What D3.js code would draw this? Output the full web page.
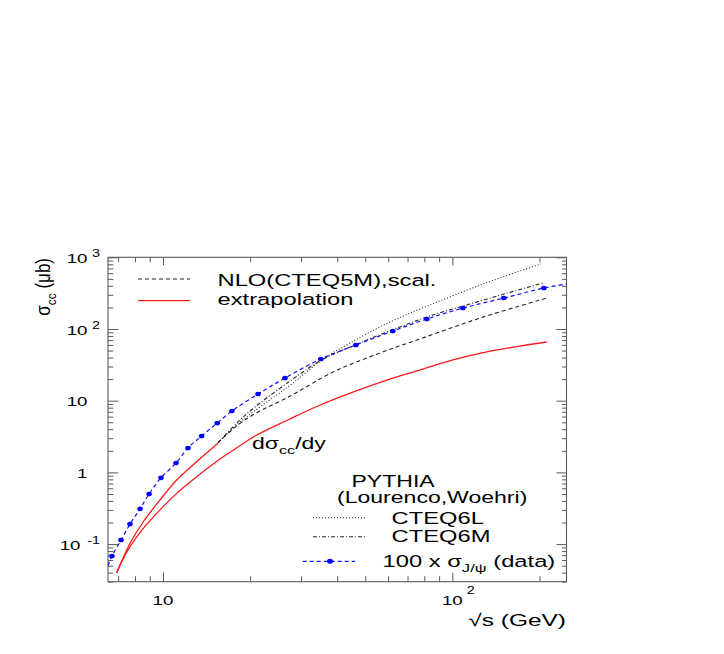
<!DOCTYPE html>
<html>
<head>
<meta charset="utf-8">
<script src="https://cdn.jsdelivr.net/npm/d3@7"></script>
<style>
  body { margin: 0; background: #fff; }
  svg { display: block; }
</style>
</head>
<body>
<svg id="chart" width="724" height="654"></svg>
<script>
// 100 x sigma(J/psi) data points
const jpsiSqrtS = [6.66, 7.16, 7.69, 8.33, 8.95, 9.84, 11.09, 12.2, 13.6, 15.4, 17.3, 21.3, 26.4, 35.1, 46.4, 62.3, 81.6, 108.7, 150.6, 207];
const jpsiSigma = [0.068, 0.114, 0.19, 0.31, 0.50, 0.84, 1.35, 2.19, 3.22, 4.89, 7.18, 12.4, 20.7, 38.2, 59.8, 93.8, 138, 196, 270, 373];
// where the dashed data line runs out of the frame
const jpsiEdgeSqrtS = [6.455, 248];
const jpsiEdgeSigma = [0.05, 424];

// red: extrapolation of the total, and dsigma/dy
const extrapSqrtS = [6.92, 7.2, 7.69, 8.55, 9.76, 11.15, 13.07, 15.49];
const extrapSigma = [0.040, 0.058, 0.103, 0.205, 0.412, 0.783, 1.41, 2.55];
const dsdySqrtS = [6.92, 7.2, 7.69, 8.55, 9.76, 11.15, 13.07, 15.74, 17.73, 20.8, 27.0, 34.9, 45.3, 59.4, 77.2, 100.4, 131.6, 171.1, 212];
const dsdySigma = [0.040, 0.057, 0.092, 0.166, 0.30, 0.51, 0.871, 1.54, 2.12, 3.22, 5.38, 8.71, 13.2, 19.4, 26.8, 37.0, 47.8, 57.9, 65.9];

// NLO (CTEQ5M), scaled
const nloSqrtS = [15.49, 18.16, 20.8, 27.5, 38.7, 56.2, 77.2, 124.5, 212];
const nloSigma = [2.6, 4.6, 6.6, 11.6, 25.1, 46.3, 72.6, 142, 270];

// PYTHIA (Lourenco, Woehri)
const cteq6lSqrtS = [15.49, 18.16, 20.8, 27.5, 35.4, 44.3, 60.8, 83.6, 127.5, 202];
const cteq6lSigma = [2.6, 4.73, 7.3, 16.4, 37.0, 63.8, 125, 216, 424, 807];
const cteq6mSqrtS = [15.49, 18.16, 20.8, 27.5, 35.4, 47.9, 65.9, 83.6, 114.9, 155.5, 205.4];
const cteq6mSigma = [2.6, 5.05, 8.17, 18.8, 37.0, 63.8, 107, 152, 223, 318, 438];

// axis labels
const xTickLabels = [{ v: 10, base: '10' }, { v: 100, base: '10', exp: '2' }];
const yTickLabels = [
  { v: 1000, base: '10', exp: '3' },
  { v: 100, base: '10', exp: '2' },
  { v: 10, base: '10' },
  { v: 1, base: '1' },
  { v: 0.1, base: '10', exp: '-1' }
];

const FONT = 'Liberation Sans, Arial, Helvetica, sans-serif';
const SX = 1.44;          // the picture is stretched sideways
const AXIS = '#5a5a5a';
const L = 108, R = 566.5, T = 257.3, B = 581.7;

const svg = d3.select('#chart');
svg.append('rect').attr('width', 724).attr('height', 654).attr('fill', '#fff');

const x = d3.scaleLog().domain([6.455, 248]).range([L, R]);
const y = d3.scaleLog().domain([0.0299, 1000]).range([B, T]);

svg.append('defs').append('clipPath').attr('id', 'frame')
  .append('rect').attr('x', L).attr('y', T).attr('width', R - L).attr('height', B - T);

// text helper: parts = [{t, sub, sup}]
const stext = (x0, y0, parts, o) => {
  const size = o.size || 16;
  const t = svg.append('text')
    .attr('transform', `translate(${x0},${y0}) scale(${o.sx || SX},1)` + (o.rot ? ` rotate(${o.rot})` : ''))
    .attr('font-family', FONT)
    .attr('font-size', size)
    .attr('text-anchor', o.anchor || 'start')
    .attr('fill', '#000');
  let shift = 0;
  parts.forEach(p => {
    const s = t.append('tspan').text(p.t);
    const want = p.sub ? size * 0.32 : p.sup ? -size * 0.45 : 0;
    if (want !== shift) s.attr('dy', want - shift);
    shift = want;
    if (p.sub || p.sup) s.attr('font-size', size * 0.7);
  });
  return t;
};

// ticks inside the frame, on all four sides
const isMajor = v => Math.abs(Math.log10(v) - Math.round(Math.log10(v))) < 1e-6;
const xTicks = x.ticks(), yTicks = y.ticks();
const tickSet = (axisFn, scale, values, size, tr) => {
  svg.append('g').attr('transform', tr).attr('color', AXIS)
    .call(axisFn(scale).tickValues(values).tickSize(size).tickSizeOuter(0).tickFormat(''))
    .call(g => g.select('.domain').remove());
};
tickSet(d3.axisBottom, x, xTicks.filter(v => !isMajor(v)), -5.5, `translate(0,${B})`);
tickSet(d3.axisBottom, x, xTicks.filter(isMajor), -9, `translate(0,${B})`);
tickSet(d3.axisTop, x, xTicks.filter(v => !isMajor(v)), -5, `translate(0,${T})`);
tickSet(d3.axisTop, x, xTicks.filter(isMajor), -8, `translate(0,${T})`);
tickSet(d3.axisLeft, y, yTicks.filter(v => !isMajor(v)), -5.3, `translate(${L},0)`);
tickSet(d3.axisLeft, y, yTicks.filter(isMajor), -10.3, `translate(${L},0)`);
tickSet(d3.axisRight, y, yTicks.filter(v => !isMajor(v)), -4.5, `translate(${R},0)`);
tickSet(d3.axisRight, y, yTicks.filter(isMajor), -10, `translate(${R},0)`);

svg.append('rect').attr('x', L).attr('y', T).attr('width', R - L).attr('height', B - T)
  .attr('fill', 'none').attr('stroke', AXIS).attr('stroke-width', 1.1);

// tick labels
xTickLabels.forEach(d => {
  const cx = x(d.v);
  stext(cx, 604.5, [{ t: d.base }], { size: 13, anchor: 'middle' });
  if (d.exp) stext(cx + 14.5, 593.5, [{ t: d.exp }], { size: 10 });
});
yTickLabels.forEach(d => {
  const cy = y(d.v) + 5.5;
  if (d.exp) {
    const neg = d.exp[0] === '-';
    stext(100, cy - 6, [{ t: d.exp }], { size: 10, anchor: 'end' });
    stext(neg ? 80.5 : 87.5, cy, [{ t: d.base }], { size: 13, anchor: 'end' });
  } else {
    stext(87.5, cy, [{ t: d.base }], { size: 13, anchor: 'end' });
  }
});

// axis titles
stext(566, 625.5, [{ t: '\u221As (GeV)' }], { size: 17, anchor: 'end' });
stext(50, 258, [{ t: '\u03C3' }, { t: 'cc', sub: true }, { t: ' (\u03BCb)' }], { size: 17, anchor: 'end', rot: -90, sx: 1.15 });

// curves
const line = d3.line().x(d => x(d[0])).y(d => y(d[1])).curve(d3.curveCatmullRom.alpha(0.5));
const zip = (a, b) => a.map((v, i) => [v, b[i]]);
const plot = svg.append('g').attr('clip-path', 'url(#frame)');

const drawCurve = (xs, ys, color, dash, w) => {
  plot.append('path')
    .attr('d', line(zip(xs, ys)))
    .attr('fill', 'none')
    .attr('stroke', color)
    .attr('stroke-width', w || 1)
    .attr('stroke-dasharray', dash || null);
};

drawCurve(dsdySqrtS, dsdySigma, '#ff1a1a', null, 1.3);
drawCurve(extrapSqrtS, extrapSigma, '#ff1a1a', null, 1.3);
drawCurve(nloSqrtS, nloSigma, '#222', '4,3', 1.1);
drawCurve(cteq6lSqrtS, cteq6lSigma, '#222', '1,2', 1.1);
drawCurve(cteq6mSqrtS, cteq6mSigma, '#222', '4,2,1,2', 1.1);

const jpsiLineX = [jpsiEdgeSqrtS[0], ...jpsiSqrtS, jpsiEdgeSqrtS[1]];
const jpsiLineY = [jpsiEdgeSigma[0], ...jpsiSigma, jpsiEdgeSigma[1]];
drawCurve(jpsiLineX, jpsiLineY, '#1010ff', '4,3', 1.2);

plot.selectAll('ellipse.jpsi')
  .data(zip(jpsiSqrtS, jpsiSigma))
  .join('ellipse')
  .attr('class', 'jpsi')
  .attr('cx', d => x(d[0]))
  .attr('cy', d => y(d[1]))
  .attr('rx', 2.8)
  .attr('ry', 2.3)
  .attr('fill', '#0000ff');

// legends
const sample = (x1, x2, yy, color, dash, w) => {
  svg.append('line').attr('x1', x1).attr('x2', x2).attr('y1', yy).attr('y2', yy)
    .attr('stroke', color).attr('stroke-width', w || 1).attr('stroke-dasharray', dash || null);
};
sample(138, 190, 279, '#222', '4,3', 1.1);
stext(217.5, 285.5, [{ t: 'NLO(CTEQ5M),scal.' }], { size: 16.5 });
sample(138, 190, 300.7, '#ff1a1a', null, 1.3);
stext(217.5, 305, [{ t: 'extrapolation' }], { size: 16.5 });

stext(252, 448.5, [{ t: 'd\u03C3' }, { t: 'cc', sub: true }, { t: '/dy' }], { size: 16 });

stext(351.5, 486.5, [{ t: 'PYTHIA' }], { size: 16 });
stext(337, 502.5, [{ t: '(Lourenco,Woehri)' }], { size: 16 });
sample(313, 365, 517.7, '#222', '1,2', 1.1);
stext(391.5, 523.5, [{ t: 'CTEQ6L' }], { size: 16.5 });
sample(313, 365, 536.7, '#222', '4,2,1,2', 1.1);
stext(391.5, 542, [{ t: 'CTEQ6M' }], { size: 16.5 });
sample(302.7, 355, 561.3, '#1010ff', '4,3', 1.2);
svg.append('ellipse').attr('cx', 330).attr('cy', 561.3).attr('rx', 3).attr('ry', 2.5).attr('fill', '#0000ff');
stext(382.5, 566.5, [{ t: '100 x ' }, { t: '\u03C3' }, { t: 'J/\u03C8', sub: true }, { t: ' (data)' }], { size: 16.5 });
</script>
</body>
</html>
